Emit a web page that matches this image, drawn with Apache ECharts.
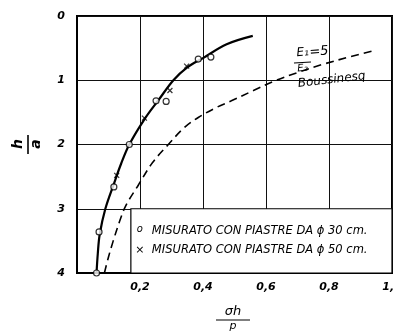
<!DOCTYPE html>
<html><head><meta charset="utf-8">
<script src="https://cdn.jsdelivr.net/npm/echarts@6/dist/echarts.min.js"></script>
<style>html,body{margin:0;padding:0;background:#fff}#c{width:394px;height:334px}</style>
</head><body><div id="c"></div>
<script>
// ---- data ----
const xTickLabels = ['', '0,2', '0,4', '0,6', '0,8', '1,0'];
const yTickLabels = ['0', '1', '2', '3', '4'];
// measured curve (solid)
const measuredCurve = [[0.062,4.0],[0.066,3.7],[0.072,3.4],[0.09,3.0],[0.118,2.6],[0.14,2.3],[0.166,2.0],[0.215,1.6],[0.26,1.3],[0.306,1.0],[0.35,0.8],[0.40,0.655],[0.475,0.44],[0.558,0.31]];
// Boussinesq curve (dashed)
const boussinesqCurve = [[0.087,4.0],[0.1,3.75],[0.115,3.5],[0.135,3.2],[0.155,2.95],[0.195,2.63],[0.24,2.28],[0.29,2.0],[0.34,1.74],[0.385,1.58],[0.44,1.43],[0.49,1.32],[0.56,1.16],[0.623,1.02],[0.7,0.88],[0.782,0.75],[0.87,0.63],[0.95,0.53]];
// measured points, plates 30 cm (circles)
const plate30 = [[0.062,4.0],[0.07,3.36],[0.117,2.66],[0.166,2.0],[0.251,1.32],[0.283,1.33],[0.385,0.67],[0.425,0.64]];
// measured points, plates 50 cm (crosses)
const plate50 = [[0.126,2.48],[0.214,1.59],[0.295,1.16],[0.348,0.78]];
const legendLabels = ['MISURATO CON PIASTRE DA \u03D5 30 cm.', 'MISURATO CON PIASTRE DA \u03D5 50 cm.'];
const curveLabels = ['E\u2081', 'E\u2082', '=5', 'Boussinesq'];
const axisNameX = ['\u03C3h', 'p'];
const axisNameY = ['h', 'a'];

const chart = echarts.init(document.getElementById('c'), null, {renderer: 'canvas'});
const tickFont = {fontFamily: 'DejaVu Sans', fontStyle: 'italic', fontWeight: 'bold', fontSize: 11, color: '#000'};
chart.setOption({
  animation: false,
  backgroundColor: '#fff',
  grid: {left: 77, right: 2, top: 16, bottom: 61, containLabel: false, outerBoundsMode: 'none', show: true, borderColor: '#000', borderWidth: 2, backgroundColor: 'transparent'},
  xAxis: {
    type: 'value', min: 0, max: 1, interval: 0.2,
    axisLine: {onZero: false, lineStyle: {color: '#000', width: 2}},
    axisTick: {show: false},
    splitLine: {show: true, lineStyle: {color: '#111', width: 1}},
    axisLabel: Object.assign({margin: 9, hideOverlap: false, formatter: v => xTickLabels[Math.round(v / 0.2)]}, tickFont)
  },
  yAxis: {
    type: 'value', min: 0, max: 4, interval: 1, inverse: true,
    axisLine: {onZero: false, lineStyle: {color: '#000', width: 2}},
    axisTick: {show: false},
    splitLine: {show: true, lineStyle: {color: '#111', width: 1}},
    axisLabel: Object.assign({margin: 12, formatter: v => yTickLabels[Math.round(v)]}, tickFont)
  },
  series: [
    {type: 'line', data: measuredCurve, smooth: 0.35, symbol: 'none', lineStyle: {color: '#000', width: 2.2}, z: 3},
    {type: 'line', data: boussinesqCurve, smooth: 0.35, symbol: 'none', lineStyle: {color: '#000', width: 1.6, type: [8, 5]}, z: 3},
    {type: 'scatter', data: plate30, symbol: 'circle', symbolSize: 6, itemStyle: {color: '#fff', borderColor: '#000', borderWidth: 1.2}, z: 5},
    {type: 'scatter', data: plate50, symbol: 'path://M0,0L10,10M10,0L0,10', symbolSize: 5, itemStyle: {color: 'none', borderColor: '#000', borderWidth: 1.2}, z: 5}
  ]
});

const p0 = chart.convertToPixel({gridIndex: 0}, [0.171, 3]);
const p1 = chart.convertToPixel({gridIndex: 0}, [1, 4]);
const legFont = {fontFamily: 'DejaVu Sans', fontStyle: 'italic', fontSize: 11.5, fill: '#000'};
const handFont = {fontFamily: 'DejaVu Sans', fontStyle: 'italic', fill: '#000'};
chart.setOption({
  graphic: [
    {type: 'rect', z: 10, shape: {x: p0[0], y: p0[1], width: p1[0] - p0[0], height: p1[1] - p0[1]}, style: {fill: '#fff', stroke: '#000', lineWidth: 1.2}},
    {type: 'text', z: 11, x: p0[0] + 9, y: p0[1] + 21, style: Object.assign({text: 'o', verticalAlign: 'middle', align: 'center'}, legFont, {fontSize: 10})},
    {type: 'text', z: 11, x: p0[0] + 9, y: p0[1] + 41, style: Object.assign({text: '\u00D7', verticalAlign: 'middle', align: 'center'}, legFont, {fontSize: 11})},
    {type: 'text', z: 11, x: p0[0] + 21, y: p0[1] + 22, style: Object.assign({text: legendLabels[0], verticalAlign: 'middle'}, legFont)},
    {type: 'text', z: 11, x: p0[0] + 21, y: p0[1] + 41, style: Object.assign({text: legendLabels[1], verticalAlign: 'middle'}, legFont)},
    // E1/E2 = 5 Boussinesq annotation
    {type: 'text', z: 12, x: 297, y: 59, rotation: 0.08, style: Object.assign({text: curveLabels[0], fontSize: 12, verticalAlign: 'bottom'}, handFont)},
    {type: 'line', z: 12, shape: {x1: 294, y1: 63, x2: 311, y2: 62}, style: {stroke: '#000', lineWidth: 1.2}},
    {type: 'text', z: 12, x: 297, y: 64, rotation: 0.08, style: Object.assign({text: curveLabels[1], fontSize: 10, verticalAlign: 'top'}, handFont)},
    {type: 'text', z: 12, x: 310, y: 59, rotation: 0.08, style: Object.assign({text: curveLabels[2], fontSize: 13, verticalAlign: 'bottom'}, handFont)},
    {type: 'text', z: 12, x: 298, y: 84, rotation: 0.12, style: Object.assign({text: curveLabels[3], fontSize: 12, verticalAlign: 'middle'}, handFont)},
    // y axis name (fraction h/a, rotated)
    {type: 'text', z: 12, x: 18, y: 144, rotation: Math.PI / 2, style: Object.assign({text: axisNameY[0], fontSize: 14, fontWeight: 'bold', align: 'center', verticalAlign: 'middle'}, handFont)},
    {type: 'line', z: 12, shape: {x1: 28, y1: 135, x2: 28, y2: 154}, style: {stroke: '#000', lineWidth: 1.6}},
    {type: 'text', z: 12, x: 36, y: 144, rotation: Math.PI / 2, style: Object.assign({text: axisNameY[1], fontSize: 14, fontWeight: 'bold', align: 'center', verticalAlign: 'middle'}, handFont)},
    // x axis name (fraction sigma_h / p)
    {type: 'text', z: 12, x: 233, y: 318, style: Object.assign({text: axisNameX[0], fontSize: 13, align: 'center', verticalAlign: 'bottom'}, handFont)},
    {type: 'line', z: 12, shape: {x1: 216, y1: 320, x2: 250, y2: 320}, style: {stroke: '#000', lineWidth: 1.2}},
    {type: 'text', z: 12, x: 233, y: 321, style: Object.assign({text: axisNameX[1], fontSize: 11, align: 'center', verticalAlign: 'top'}, handFont)}
  ]
});
</script>
</body></html>
